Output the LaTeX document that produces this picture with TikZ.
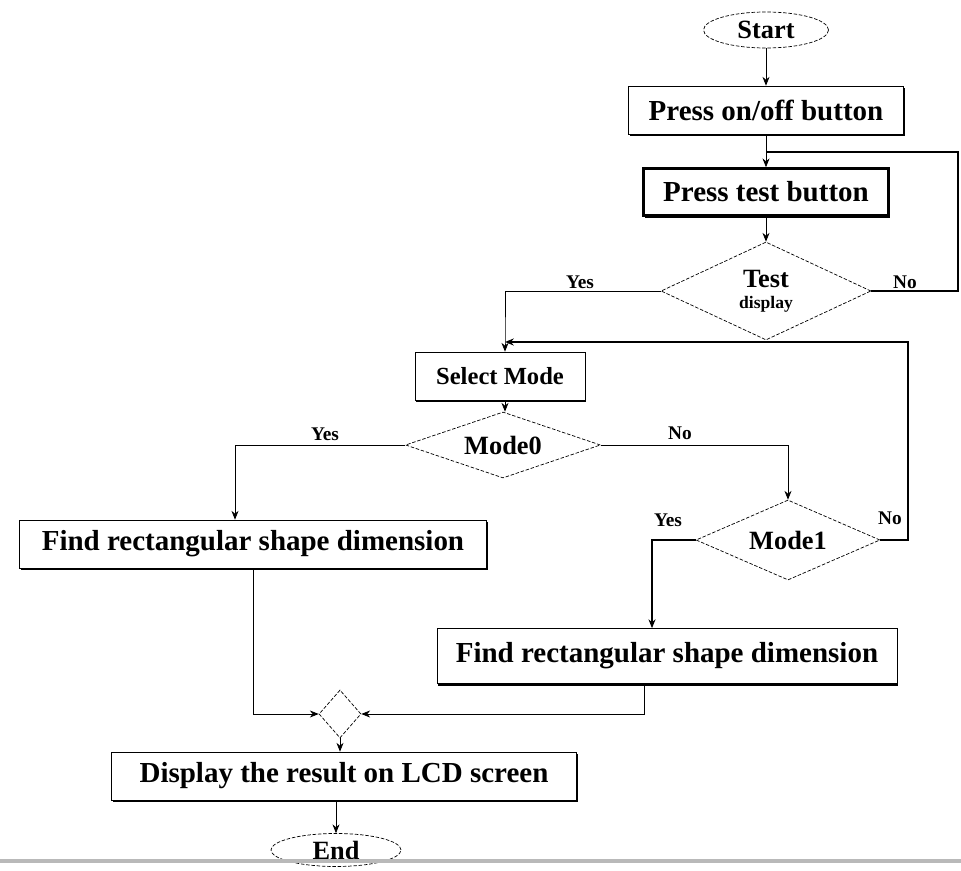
\documentclass[tikz,border=0pt]{standalone}
\usepackage{fontspec}
\setmainfont{Liberation Serif}
\usetikzlibrary{shapes.geometric,arrows.meta,shadows}

\tikzset{
  procbox/.style={draw, fill=white, minimum height=0.96cm, inner sep=2pt,
    font=\fontsize{16.5}{18}\selectfont\bfseries,
    drop shadow={shadow xshift=0.7pt, shadow yshift=-1.3pt, fill=black, opacity=1}},
  decide/.style={draw, diamond, aspect=3, dash pattern=on 2pt off 1pt, inner sep=0pt,
    font=\fontsize{15}{16}\selectfont\bfseries},
  term/.style={draw, ellipse, dash pattern=on 2pt off 1pt, minimum width=2.5cm,
    minimum height=0.72cm, inner sep=0pt, font=\fontsize{15}{16}\selectfont\bfseries},
  flow/.style={-{Stealth[length=5pt,width=4pt]}},
  lbl/.style={font=\fontsize{11}{12}\selectfont\bfseries}
}

\begin{document}
\begin{tikzpicture}[x=0.02cm,y=-0.02cm]
\useasboundingbox (0,0) rectangle (961,871);

% top part
\node[term] (start) at (766,30) {Start};
\node[procbox, minimum width=5.5cm] (onoff) at (766,110) {Press on/off button};
\node[procbox, line width=1.5pt, minimum width=4.9cm, minimum height=0.94cm] (test) at (766,192) {Press test button};
\node[decide, aspect=2, minimum width=4.2cm, minimum height=1.96cm, align=center] (tdisp) at (766,291) {Test\\[-4pt]{\fontsize{10}{11}\selectfont display}};
\coordinate (j1) at (766,152);

% mode selection
\node[procbox, minimum width=3.4cm, font=\fontsize{14}{16}\selectfont\bfseries] (select) at (500,376) {Select Mode};
\node[decide, minimum width=3.9cm, minimum height=1.32cm] (mzero) at (503,445) {Mode0};
\node[decide, minimum width=3.68cm, minimum height=1.6cm] (mone) at (788,540) {Mode1};
\coordinate (j2) at (505,342);

\node[procbox, minimum width=9.34cm] (rect) at (253,544) {Find rectangular shape dimension};
\node[procbox, minimum width=9.2cm, minimum height=1.1cm] (rect2) at (667,656) {Find rectangular shape dimension};

% bottom part
\node[decide, aspect=1, minimum width=0.84cm, minimum height=0.96cm] (merge) at (340,714) {};
\node[procbox, minimum width=9.3cm] (show) at (344,776) {Display the result on LCD screen};
\node[term, minimum width=2.6cm, minimum height=0.66cm] (stop) at (336,850) {End};

% labels
\node[lbl] (tyes) at (580,282) {Yes};
\node[lbl] (tno) at (905,282) {No};
\node[lbl] (zyes) at (325,434) {Yes};
\node[lbl] (zno) at (680,433) {No};
\node[lbl] (oyes) at (668,520) {Yes};
\node[lbl] (ono) at (890,518) {No};

% connectors
\draw[flow] (start) -- (onoff);
\draw[flow] (onoff) -- (test);
\draw[flow] (test) -- (tdisp);
\draw[line width=1.5pt] (tdisp.east) -- (958,291) |- (j1);
\draw[flow] (tdisp.west) -| (j2) -- (j2 |- select.north);
\draw[flow] (j2 |- select.south) -- (j2 |- mzero.north);
\draw[flow] (mzero.west) -| ([xshift=-0.36cm]rect.north);
\draw[flow] (mzero.east) -| (mone.north);
\draw[flow, line width=1.5pt] (mone.east) -- (908,540) |- (j2);
\draw[flow, line width=1.2pt] (mone.west) -| ([xshift=-0.3cm]rect2.north);
\draw[flow] (rect.south) |- (merge.west);
\draw[flow] ([xshift=-0.46cm]rect2.south) |- (merge.east);
\draw[flow] (merge) -- (merge |- show.north);
\draw[flow] (stop.north |- show.south) -- (stop);

\draw[gray!55, line width=2pt] (0,861) -- (961,861);
\end{tikzpicture}
\end{document}
